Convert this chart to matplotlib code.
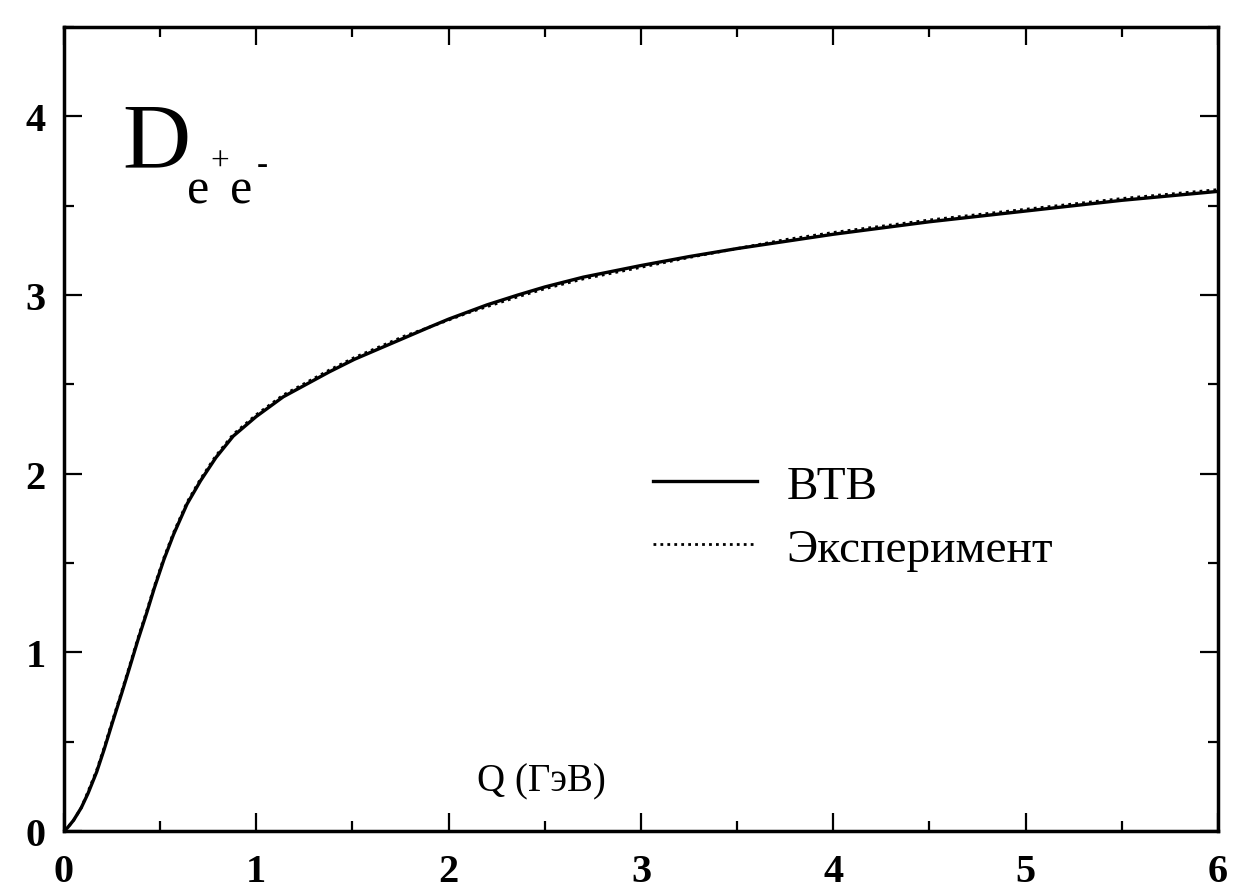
import matplotlib
matplotlib.use("Agg")
import matplotlib.pyplot as plt
from matplotlib.ticker import MultipleLocator

plt.rcParams['font.family'] = ['Liberation Serif', 'DejaVu Serif']

# values
q_vtb = [0, 0.02, 0.05, 0.09, 0.125, 0.17, 0.21, 0.25, 0.30, 0.34, 0.385, 0.43, 0.47,
         0.52, 0.57, 0.64, 0.71, 0.79, 0.88, 1.0, 1.14, 1.26, 1.38, 1.51, 1.64, 1.77,
         1.9, 2.0, 2.1, 2.2, 2.36, 2.5, 2.7, 3.0, 3.25, 3.5, 3.75, 4.0, 4.5, 5.0, 5.5, 6.0]
d_vtb = [0, 0.02, 0.06, 0.13, 0.21, 0.33, 0.46, 0.60, 0.77, 0.91, 1.07, 1.22, 1.36,
         1.52, 1.66, 1.83, 1.96, 2.09, 2.21, 2.32, 2.43, 2.50, 2.57, 2.64, 2.70, 2.76,
         2.82, 2.865, 2.905, 2.945, 3.0, 3.045, 3.10, 3.165, 3.215, 3.26, 3.30, 3.34,
         3.41, 3.47, 3.53, 3.58]

q_exp = [0, 0.02, 0.05, 0.09, 0.125, 0.17, 0.21, 0.25, 0.30, 0.34, 0.385, 0.43, 0.47,
         0.52, 0.57, 0.64, 0.71, 0.79, 0.88, 1.0, 1.14, 1.26, 1.38, 1.51, 1.64, 1.77,
         1.9, 2.0, 2.1, 2.2, 2.36, 2.5, 2.7, 3.0, 3.25, 3.5, 3.75, 4.0, 4.5, 5.0, 5.5, 6.0]
d_exp = [0, 0.02, 0.06, 0.13, 0.22, 0.34, 0.47, 0.61, 0.78, 0.92, 1.08, 1.23, 1.37,
         1.53, 1.67, 1.84, 1.97, 2.10, 2.22, 2.33, 2.44, 2.51, 2.58, 2.65, 2.71, 2.77,
         2.82, 2.86, 2.90, 2.935, 2.99, 3.035, 3.09, 3.155, 3.21, 3.26, 3.31, 3.35,
         3.42, 3.48, 3.54, 3.59]

fig = plt.figure(figsize=(12.44, 8.95), dpi=100)
ax = fig.add_axes([0.0514, 0.0704, 0.9277, 0.8983])

ax.plot(q_vtb, d_vtb, color='black', lw=2.4, label='ВТВ')
ax.plot(q_exp, d_exp, color='black', lw=2.0, linestyle=(0, (1, 1.5)), label='Эксперимент')

ax.set_xlim(0, 6)
ax.set_ylim(0, 4.5)
ax.xaxis.set_major_locator(MultipleLocator(1))
ax.xaxis.set_minor_locator(MultipleLocator(0.5))
ax.yaxis.set_major_locator(MultipleLocator(1))
ax.yaxis.set_minor_locator(MultipleLocator(0.5))
ax.tick_params(which='both', direction='in', top=True, right=True, width=1.6, labelsize=29)
ax.tick_params(which='major', length=13)
ax.tick_params(which='minor', length=7)
ax.tick_params(axis='x', pad=16)
ax.tick_params(axis='y', pad=13)
for lab in ax.get_xticklabels() + ax.get_yticklabels():
    lab.set_fontweight('bold')
for s in ax.spines.values():
    s.set_linewidth(2.5)

# D_{e+e-} label
ax.text(0.051, 0.827, 'D', transform=ax.transAxes, fontsize=68, ha='left', va='baseline')
ax.text(0.107, 0.782, 'e', transform=ax.transAxes, fontsize=36, ha='left', va='baseline')
ax.text(0.144, 0.782, 'e', transform=ax.transAxes, fontsize=36, ha='left', va='baseline')
ax.text(0.135, 0.833, '+', transform=ax.transAxes, fontsize=24, ha='center', va='center')
ax.text(0.172, 0.829, '-', transform=ax.transAxes, fontsize=24, ha='center', va='center')

ax.text(0.358, 0.05, 'Q (ГэВ)', transform=ax.transAxes, fontsize=28, ha='left', va='baseline')

ax.legend(loc='upper left', bbox_to_anchor=(0.49, 0.485), frameon=False, fontsize=34,
          handlelength=2.2, handletextpad=0.62, labelspacing=0.42, borderpad=0)

fig.savefig('out.png', dpi=100)
